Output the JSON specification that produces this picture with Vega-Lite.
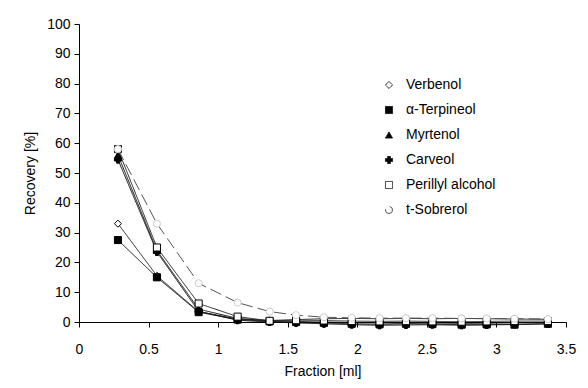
{
  "$schema": "https://vega.github.io/schema/vega-lite/v6.json",
  "width": 487,
  "height": 298,
  "autosize": {"type": "none"},
  "padding": {"left": 79, "top": 24, "right": 22, "bottom": 66},
  "background": "white",
  "config": {
    "view": {"stroke": null},
    "font": "Liberation Sans",
    "axis": {"domainColor": "black", "tickColor": "black", "labelColor": "black", "titleColor": "black", "labelFontSize": 14, "titleFontSize": 14, "titleFontWeight": "normal", "grid": false, "tickSize": 5, "labelFont": "Liberation Sans", "titleFont": "Liberation Sans"}
  },
  "data": {
    "values": [
      {"s":"Verbenol","x":0.28,"y":33},{"s":"Verbenol","x":0.56,"y":15.5},{"s":"Verbenol","x":0.86,"y":3.5},{"s":"Verbenol","x":1.14,"y":1.0},{"s":"Verbenol","x":1.37,"y":0.5},{"s":"Verbenol","x":1.56,"y":0.8},{"s":"Verbenol","x":1.76,"y":1.1},{"s":"Verbenol","x":1.96,"y":1.2},{"s":"Verbenol","x":2.16,"y":1.1},{"s":"Verbenol","x":2.35,"y":1.2},{"s":"Verbenol","x":2.54,"y":1.1},{"s":"Verbenol","x":2.75,"y":1.2},{"s":"Verbenol","x":2.93,"y":1.1},{"s":"Verbenol","x":3.13,"y":1.0},{"s":"Verbenol","x":3.37,"y":0.9},
      {"s":"α-Terpineol","x":0.28,"y":27.5},{"s":"α-Terpineol","x":0.56,"y":15},{"s":"α-Terpineol","x":0.86,"y":3.3},{"s":"α-Terpineol","x":1.14,"y":0.8},{"s":"α-Terpineol","x":1.37,"y":0.2},{"s":"α-Terpineol","x":1.56,"y":0},{"s":"α-Terpineol","x":1.76,"y":-0.3},{"s":"α-Terpineol","x":1.96,"y":-0.6},{"s":"α-Terpineol","x":2.16,"y":-0.8},{"s":"α-Terpineol","x":2.35,"y":-0.6},{"s":"α-Terpineol","x":2.54,"y":-0.7},{"s":"α-Terpineol","x":2.75,"y":-0.9},{"s":"α-Terpineol","x":2.93,"y":-0.8},{"s":"α-Terpineol","x":3.13,"y":-0.9},{"s":"α-Terpineol","x":3.37,"y":-0.6},
      {"s":"Myrtenol","x":0.28,"y":56},{"s":"Myrtenol","x":0.56,"y":24},{"s":"Myrtenol","x":0.86,"y":4.3},{"s":"Myrtenol","x":1.14,"y":1.2},{"s":"Myrtenol","x":1.37,"y":0.4},{"s":"Myrtenol","x":1.56,"y":0.2},{"s":"Myrtenol","x":1.76,"y":0},{"s":"Myrtenol","x":1.96,"y":-0.2},{"s":"Myrtenol","x":2.16,"y":-0.3},{"s":"Myrtenol","x":2.35,"y":-0.4},{"s":"Myrtenol","x":2.54,"y":-0.3},{"s":"Myrtenol","x":2.75,"y":-0.5},{"s":"Myrtenol","x":2.93,"y":-0.4},{"s":"Myrtenol","x":3.13,"y":-0.3},{"s":"Myrtenol","x":3.37,"y":-0.2},
      {"s":"Carveol","x":0.28,"y":54.5},{"s":"Carveol","x":0.56,"y":23.5},{"s":"Carveol","x":0.86,"y":3.6},{"s":"Carveol","x":1.14,"y":0.6},{"s":"Carveol","x":1.37,"y":0},{"s":"Carveol","x":1.56,"y":-0.3},{"s":"Carveol","x":1.76,"y":-0.6},{"s":"Carveol","x":1.96,"y":-0.9},{"s":"Carveol","x":2.16,"y":-1.1},{"s":"Carveol","x":2.35,"y":-1.0},{"s":"Carveol","x":2.54,"y":-0.9},{"s":"Carveol","x":2.75,"y":-1.1},{"s":"Carveol","x":2.93,"y":-1.0},{"s":"Carveol","x":3.13,"y":-0.8},{"s":"Carveol","x":3.37,"y":-0.6},
      {"s":"Perillyl alcohol","x":0.28,"y":58},{"s":"Perillyl alcohol","x":0.56,"y":25},{"s":"Perillyl alcohol","x":0.86,"y":6.2},{"s":"Perillyl alcohol","x":1.14,"y":1.8},{"s":"Perillyl alcohol","x":1.37,"y":0.4},{"s":"Perillyl alcohol","x":1.56,"y":0.6},{"s":"Perillyl alcohol","x":1.76,"y":0.5},{"s":"Perillyl alcohol","x":1.96,"y":0.3},{"s":"Perillyl alcohol","x":2.16,"y":0.2},{"s":"Perillyl alcohol","x":2.35,"y":0.3},{"s":"Perillyl alcohol","x":2.54,"y":0.2},{"s":"Perillyl alcohol","x":2.75,"y":0.1},{"s":"Perillyl alcohol","x":2.93,"y":0.2},{"s":"Perillyl alcohol","x":3.13,"y":0.3},{"s":"Perillyl alcohol","x":3.37,"y":0.3},
      {"s":"t-Sobrerol","x":0.28,"y":58},{"s":"t-Sobrerol","x":0.56,"y":33},{"s":"t-Sobrerol","x":0.86,"y":13},{"s":"t-Sobrerol","x":1.14,"y":6.5},{"s":"t-Sobrerol","x":1.37,"y":3.5},{"s":"t-Sobrerol","x":1.56,"y":2.3},{"s":"t-Sobrerol","x":1.76,"y":1.6},{"s":"t-Sobrerol","x":1.96,"y":1.4},{"s":"t-Sobrerol","x":2.16,"y":1.3},{"s":"t-Sobrerol","x":2.35,"y":1.3},{"s":"t-Sobrerol","x":2.54,"y":1.3},{"s":"t-Sobrerol","x":2.75,"y":1.2},{"s":"t-Sobrerol","x":2.93,"y":1.2},{"s":"t-Sobrerol","x":3.13,"y":1.1},{"s":"t-Sobrerol","x":3.37,"y":1.0}
    ]
  },
  "encoding": {
    "x": {"field": "x", "type": "quantitative", "scale": {"domain": [0, 3.5], "nice": false, "zero": false}, "axis": {"title": "Fraction [ml]", "values": [0, 0.5, 1, 1.5, 2, 2.5, 3, 3.5], "format": "~g", "labelPadding": 15, "titlePadding": 8, "labelFlush": false}},
    "y": {"field": "y", "type": "quantitative", "scale": {"domain": [0, 100], "nice": false}, "axis": {"title": "Recovery [%]", "values": [0, 10, 20, 30, 40, 50, 60, 70, 80, 90, 100], "labelPadding": 4, "titlePadding": 9}}
  },
  "layer": [
    {
      "mark": {"type": "line", "strokeWidth": 1, "clip": false},
      "encoding": {
        "color": {"field": "s", "type": "nominal", "sort": null, "scale": {"domain": ["Verbenol", "α-Terpineol", "Myrtenol", "Carveol", "Perillyl alcohol", "t-Sobrerol"], "range": ["#222222", "#111111", "#111111", "#111111", "#222222", "#555555"]},
          "legend": {"title": null, "orient": "none", "legendX": 303, "legendY": 54, "rowPadding": 11, "labelOffset": 10, "labelFont": "Liberation Sans", "labelFontSize": 14, "labelColor": "black", "symbolStrokeWidth": 1}
        },
        "strokeDash": {"field": "s", "type": "nominal", "scale": {"domain": ["Verbenol", "α-Terpineol", "Myrtenol", "Carveol", "Perillyl alcohol", "t-Sobrerol"], "range": [[1, 0], [1, 0], [1, 0], [1, 0], [1, 0], [12, 5]]}, "legend": null}
      }
    },
    {
      "mark": {"type": "point", "filled": true, "strokeWidth": 1, "opacity": 1, "clip": false},
      "encoding": {
        "shape": {"field": "s", "type": "nominal", "scale": {"domain": ["Verbenol", "α-Terpineol", "Myrtenol", "Carveol", "Perillyl alcohol", "t-Sobrerol"], "range": ["diamond", "square", "triangle-up", "cross", "square", "circle"]}, "legend": null},
        "angle": {"field": "s", "type": "nominal", "scale": {"domain": ["Verbenol", "α-Terpineol", "Myrtenol", "Carveol", "Perillyl alcohol", "t-Sobrerol"], "range": [0, 0, 0, 45, 0, 0]}, "legend": null},
        "fill": {"field": "s", "type": "nominal", "scale": {"domain": ["Verbenol", "α-Terpineol", "Myrtenol", "Carveol", "Perillyl alcohol", "t-Sobrerol"], "range": ["white", "black", "black", "black", "white", "white"]}, "legend": null},
        "stroke": {"field": "s", "type": "nominal", "scale": {"domain": ["Verbenol", "α-Terpineol", "Myrtenol", "Carveol", "Perillyl alcohol", "t-Sobrerol"], "range": ["black", "black", "black", "black", "black", "#cccccc"]}, "legend": null},
        "size": {"field": "s", "type": "nominal", "scale": {"domain": ["Verbenol", "α-Terpineol", "Myrtenol", "Carveol", "Perillyl alcohol", "t-Sobrerol"], "range": [50, 50, 50, 40, 50, 20]}, "legend": null}
      }
    }
  ]
}
